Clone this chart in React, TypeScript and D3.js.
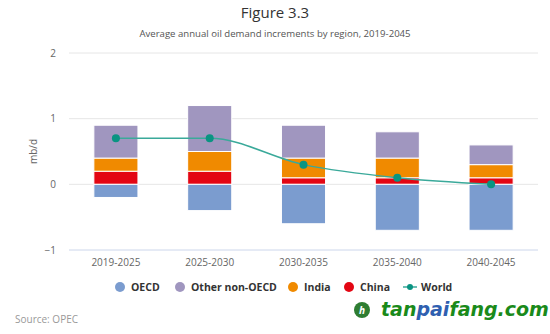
import React from "react";
import * as d3 from "d3";

const categories = ["2019-2025", "2025-2030", "2030-2035", "2035-2040", "2040-2045"];
const oecd = [-0.2, -0.4, -0.6, -0.7, -0.7];
const china = [0.2, 0.2, 0.1, 0.1, 0.1];
const india = [0.2, 0.3, 0.3, 0.3, 0.2];
const otherNonOecd = [0.5, 0.7, 0.5, 0.4, 0.3];
const world = [0.7, 0.7, 0.3, 0.1, 0.0];
const yTicks = [-1, 0, 1, 2];

const COLORS = {
  oecd: "#7b9ccf",
  other: "#a096bf",
  india: "#f08a00",
  china: "#e30613",
  world: "#0a9482",
  worldLine: "#3aa99a",
};

const FONT = "'Open Sans', sans-serif";

export default function App() {
  const W = 550, H = 334;
  const left = 69, right = 538, top = 53, bottom = 250;
  const x = d3.scaleBand<string>().domain(categories).range([left, right]).paddingInner(0.53).paddingOuter(0.265);
  const y = d3.scaleLinear().domain([-1, 2]).range([bottom, top]);
  const bw = x.bandwidth();

  const positive = [
    { key: "china", vals: china, color: COLORS.china },
    { key: "india", vals: india, color: COLORS.india },
    { key: "other", vals: otherNonOecd, color: COLORS.other },
  ];

  const bars: JSX.Element[] = [];
  categories.forEach((c, i) => {
    let base = 0;
    positive.forEach((s) => {
      const v = s.vals[i];
      const y0 = y(base), y1 = y(base + v);
      bars.push(
        <rect key={s.key + i} x={x(c)} y={y1} width={bw} height={y0 - y1} fill={s.color} stroke="#ffffff" strokeWidth={1} />
      );
      base += v;
    });
    bars.push(
      <rect key={"oecd" + i} x={x(c)} y={y(0)} width={bw} height={y(oecd[i]) - y(0)} fill={COLORS.oecd} stroke="#ffffff" strokeWidth={1} />
    );
  });

  const cx = (c: string) => (x(c) as number) + bw / 2;
  const line = d3.line<number>().x((_, i) => cx(categories[i])).y((d) => y(d)).curve(d3.curveMonotoneX);

  const legendItems = [
    { label: "OECD", color: COLORS.oecd, cx: 120, type: "circle" },
    { label: "Other non-OECD", color: COLORS.other, cx: 180, type: "circle" },
    { label: "India", color: COLORS.india, cx: 293, type: "circle" },
    { label: "China", color: COLORS.china, cx: 349, type: "circle" },
    { label: "World", color: COLORS.world, cx: 410, type: "line" },
  ];

  return (
    <svg width={W} height={H} style={{ position: "absolute", left: 0, top: 0, background: "#fff" }} fontFamily={FONT}>
      <text x={W / 2} y={18} textAnchor="middle" fontSize={15} fill="#333">Figure 3.3</text>
      <text x={W / 2} y={37} textAnchor="middle" fontSize={9.6} fill="#555">Average annual oil demand increments by region, 2019-2045</text>

      {yTicks.map((t) => (
        <g key={t}>
          <line x1={left} x2={right} y1={y(t)} y2={y(t)} stroke={t === -1 ? "#ccd6eb" : "#e6e6e6"} strokeWidth={1} />
          <text x={56} y={y(t) + 3.5} textAnchor="end" fontSize={10} fill="#666">{t < 0 ? "\u2212" + Math.abs(t) : t}</text>
        </g>
      ))}
      <text transform={`translate(37,${(top + bottom) / 2}) rotate(-90)`} textAnchor="middle" fontSize={10} fill="#666">mb/d</text>

      {bars}

      <path d={line(world) || ""} fill="none" stroke={COLORS.worldLine} strokeWidth={1.5} />
      {world.map((v, i) => (
        <circle key={i} cx={cx(categories[i])} cy={y(v)} r={4} fill={COLORS.world} />
      ))}

      {categories.map((c) => (
        <text key={c} x={cx(c)} y={266} textAnchor="middle" fontSize={10} fill="#666">{c}</text>
      ))}

      {legendItems.map((it) => (
        <g key={it.label}>
          {it.type === "circle" ? (
            <circle cx={it.cx} cy={287} r={5} fill={it.color} />
          ) : (
            <g>
              <line x1={it.cx - 7} x2={it.cx + 7} y1={287} y2={287} stroke={COLORS.worldLine} strokeWidth={1.5} />
              <circle cx={it.cx} cy={287} r={3} fill={it.color} />
            </g>
          )}
          <text x={it.cx + 11} y={291} fontSize={10.5} fontWeight="bold" fill="#333">{it.label}</text>
        </g>
      ))}

      <text x={15} y={323} fontSize={10} fill="#999">Source: OPEC</text>

      <g>
        <circle cx={362} cy={310} r={8} fill="#2e7d32" />
        <text x={362} y={314} textAnchor="middle" fontSize={10} fontWeight="bold" fontStyle="italic" fill="#fff">h</text>
        <text x={381} y={316} fontSize={19} fontWeight="bold" fontStyle="italic" fontFamily="'DejaVu Sans', sans-serif">
          <tspan fill="#1a8a1a">tan</tspan>
          <tspan fill="#2f5fb0">pai</tspan>
          <tspan fill="#1a8a1a">fang.com</tspan>
        </text>
      </g>
    </svg>
  );
}
